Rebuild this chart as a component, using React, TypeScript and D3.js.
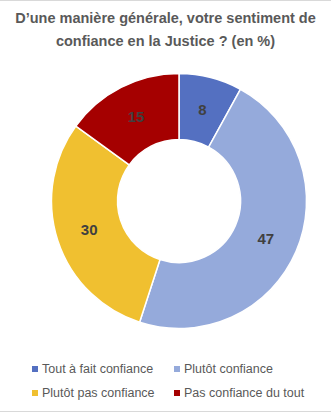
import React from "react";
import * as d3 from "d3";

const categories = ["Tout à fait confiance", "Plutôt confiance", "Plutôt pas confiance", "Pas confiance du tout"];
const values = [8, 47, 30, 15];
const colors = ["#5470C1", "#95AADB", "#F0C030", "#A50000"];
const titleLines = ["D’une manière générale, votre sentiment de", "confiance en la Justice ? (en %)"];

const W = 331;
const H = 412;
const cx = 179;
const cy = 201;
const outerR = 127.5;
const innerR = 61.5;

export default function App() {
  const pie = d3.pie<number>().sort(null).value((d) => d)(values);
  const arc = d3.arc<d3.PieArcDatum<number>>().innerRadius(innerR).outerRadius(outerR);
  const labelArc = d3.arc<d3.PieArcDatum<number>>().innerRadius(innerR).outerRadius(outerR);
  const font = "Liberation Sans, Arial, sans-serif";
  const legendPos = [
    { x: 32, y: 369 },
    { x: 174, y: 369 },
    { x: 32, y: 393 },
    { x: 174, y: 393 },
  ];
  return (
    <svg width={W} height={H} style={{ position: "absolute", left: 0, top: 0, background: "#fff" }}>
      <line x1={0} x2={W} y1={0.5} y2={0.5} stroke="#d9d9d9" />
      <line x1={0} x2={W} y1={411.5} y2={411.5} stroke="#d9d9d9" />
      {titleLines.map((t, i) => (
        <text key={i} x={165.5} y={23 + i * 23} textAnchor="middle" fontFamily={font} fontWeight="bold" fontSize={14.5} fill="#595959">
          {t}
        </text>
      ))}
      <g transform={`translate(${cx},${cy})`}>
        {pie.map((p, i) => (
          <path key={i} d={arc(p) || ""} fill={colors[i]} stroke="#fff" strokeWidth={1.5} />
        ))}
        {pie.map((p, i) => {
          const [x, y] = labelArc.centroid(p);
          return (
            <text key={"l" + i} x={x} y={y} dy="0.35em" textAnchor="middle" fontFamily={font} fontWeight="bold" fontSize={15} fill="#404040">
              {values[i]}
            </text>
          );
        })}
      </g>
      {categories.map((c, i) => (
        <g key={c} transform={`translate(${legendPos[i].x},${legendPos[i].y})`}>
          <rect x={0} y={-3} width={6} height={6} fill={colors[i]} />
          <text x={10} y={0} dy="0.35em" fontFamily={font} fontSize={12.5} fill="#595959">
            {c}
          </text>
        </g>
      ))}
    </svg>
  );
}
